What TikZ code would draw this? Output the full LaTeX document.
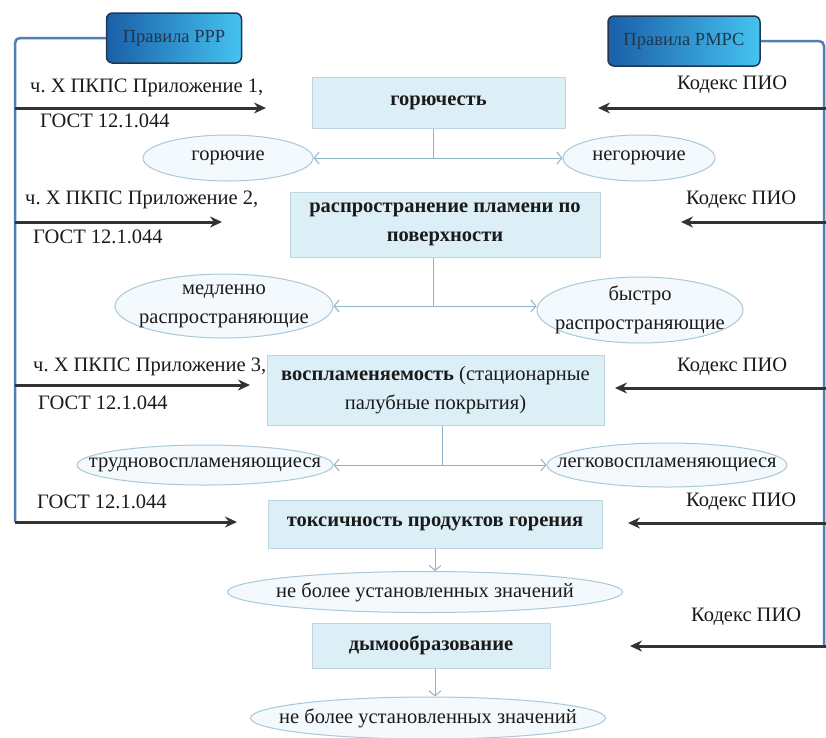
\documentclass[tikz,border=0pt]{standalone}
\usepackage{fontspec}
\setmainfont{Liberation Serif}
\usetikzlibrary{arrows.meta,shapes.geometric}
\definecolor{boxfill}{HTML}{DCEEF6}
\definecolor{boxdraw}{HTML}{BFD6E2}
\definecolor{ellfill}{HTML}{F3F9FC}
\definecolor{elldraw}{HTML}{A9C9D9}
\definecolor{thinc}{HTML}{8FB3C9}
\definecolor{thickc}{HTML}{333333}
\definecolor{framec}{HTML}{4F7FB5}
\definecolor{rulesdark}{HTML}{1A5FA8}
\definecolor{ruleslight}{HTML}{45C3F0}
\definecolor{rulesdraw}{HTML}{22364F}
\definecolor{txt}{HTML}{1A1A1A}
\frenchspacing
\begin{document}
\begin{tikzpicture}[x=1pt,y=-1pt, font=\fontsize{20.5}{29}\selectfont, text=txt,
 crit/.style={draw=boxdraw, fill=boxfill, line width=1pt, align=center, inner sep=0pt},
 res/.style={ellipse, draw=elldraw, fill=ellfill, line width=1pt, inner sep=0pt},
 rules/.style={draw=rulesdraw, line width=1.5pt, rounded corners=6pt, left color=rulesdark, right color=ruleslight, text=rulesdraw, inner sep=0pt, font=\fontsize{18.5}{22}\selectfont},
 lbl/.style={anchor=west, inner sep=0pt},
 thinline/.style={draw=thinc, line width=1pt},
 thinarrow/.style={draw=thinc, line width=1pt, -{Straight Barb[length=5pt,width=12pt]}},
 thickarrow/.style={draw=thickc, line width=3pt, -{Stealth[length=12pt,width=11pt,inset=4pt]}},
 framel/.style={draw=framec, line width=2.5pt, rounded corners=5pt},
]
\useasboundingbox (0,0) rectangle (826,737);

% rule boxes
\node[rules, minimum width=135, minimum height=50] (ppp) at (174,38) {Правила РРР};
\node[rules, minimum width=152, minimum height=50] (pmpc) at (684,41) {Правила РМРС};

% criteria boxes
\node[crit, minimum width=253, minimum height=51] (b1) at (438.5,102.5) {\textbf{горючесть}};
\node[crit, minimum width=310, minimum height=65] (b2) at (445,224.5) {\textbf{распространение пламени по}\\\textbf{поверхности}};
\node[crit, minimum width=337, minimum height=70] (b3) at (435.5,390) {\textbf{воспламеняемость} (стационарные\\палубные покрытия)};
\node[crit, minimum width=334, minimum height=48] (b4) at (435,524) {\textbf{токсичность продуктов горения}};
\node[crit, minimum width=238, minimum height=45] (b5) at (431,645.5) {\textbf{дымообразование}};

% result ellipses
\node[res, minimum width=170, minimum height=46, label={center:горючие}] (e1) at (228,158) {};
\node[res, minimum width=152, minimum height=46, label={center:негорючие}] (e2) at (639,158) {};
\node[res, minimum width=218, minimum height=64, label={[align=center]center:медленно\\распространяющие}] (e3) at (224,306) {};
\node[res, minimum width=206, minimum height=66, label={[align=center]center:быстро\\распространяющие}] (e4) at (640,310) {};
\node[res, minimum width=256, minimum height=40, label={center:трудновоспламеняющиеся}] (e5) at (205,465) {};
\node[res, minimum width=240, minimum height=44, label={center:легковоспламеняющиеся}] (e6) at (667,465) {};
\node[res, minimum width=395, minimum height=41, label={center:не более установленных значений}] (e7) at (425,592) {};
\node[res, minimum width=355, minimum height=42, label={center:не более установленных значений}] (e8) at (428,718) {};

% thin connectors
\coordinate (j1) at (433,158);
\coordinate (j2) at (433,306);
\coordinate (j3) at (442,465);
\coordinate (j4) at (435,0);
\draw[thinline] (b1.south -| j1) -- (j1);
\draw[thinarrow] (j1) -- (j1 -| e1.east);
\draw[thinarrow] (j1) -- (j1 -| e2.west);
\draw[thinline] (b2.south -| j2) -- (j2);
\draw[thinarrow] (j2) -- (j2 -| e3.east);
\draw[thinarrow] (j2) -- (j2 -| e4.west);
\draw[thinline] (b3.south -| j3) -- (j3);
\draw[thinarrow] (j3) -- (j3 -| e5.east);
\draw[thinarrow] (j3) -- (j3 -| e6.west);
\draw[thinarrow] (b4.south -| j4) -- (e7.north -| j4);
\draw[thinarrow] (b5.south -| j4) -- (e8.north -| j4);

% frames
\coordinate (L1) at (15,108);
\coordinate (L2) at (15,222);
\coordinate (L3) at (15,385);
\coordinate (L4) at (15,522);
\coordinate (TL1) at (266,108);
\coordinate (TL2) at (222,222);
\coordinate (TL3) at (250,385);
\coordinate (TL4) at (237,522);
\coordinate (RV) at (824,646);
\coordinate (R1) at (826,108);
\coordinate (R2) at (826,222);
\coordinate (R3) at (826,388);
\coordinate (R4) at (826,523);
\coordinate (R5) at (826,646);
\coordinate (TR1) at (598,108);
\coordinate (TR2) at (681,222);
\coordinate (TR3) at (615,388);
\coordinate (TR4) at (628,523);
\coordinate (TR5) at (630,646);
\draw[framel] (ppp.west) -| (L4);
\draw[framel] (pmpc.east) -| (RV);

\draw[thickarrow] (L1) -- (TL1);
\draw[thickarrow] (L2) -- (TL2);
\draw[thickarrow] (L3) -- (TL3);
\draw[thickarrow] (L4) -- (TL4);
\draw[thickarrow] (R1) -- (TR1);
\draw[thickarrow] (R2) -- (TR2);
\draw[thickarrow] (R3) -- (TR3);
\draw[thickarrow] (R4) -- (TR4);
\draw[thickarrow] (R5) -- (TR5);

% labels
\node[lbl] (t1a) at (30,88) {ч. X ПКПС Приложение 1,};
\node[lbl] (t1b) at (40,121) {ГОСТ 12.1.044};
\node[lbl] (t2a) at (25,200) {ч. X ПКПС Приложение 2,};
\node[lbl] (t2b) at (33,237) {ГОСТ 12.1.044};
\node[lbl] (t3a) at (33,367) {ч. X ПКПС Приложение 3,};
\node[lbl] (t3b) at (38,403) {ГОСТ 12.1.044};
\node[lbl] (t4b) at (37,502) {ГОСТ 12.1.044};
\node[lbl] (k1) at (677,85) {Кодекс ПИО};
\node[lbl] (k2) at (686,200) {Кодекс ПИО};
\node[lbl] (k3) at (677,367) {Кодекс ПИО};
\node[lbl] (k4) at (686,502) {Кодекс ПИО};
\node[lbl] (k5) at (691,617) {Кодекс ПИО};
\end{tikzpicture}
\end{document}
